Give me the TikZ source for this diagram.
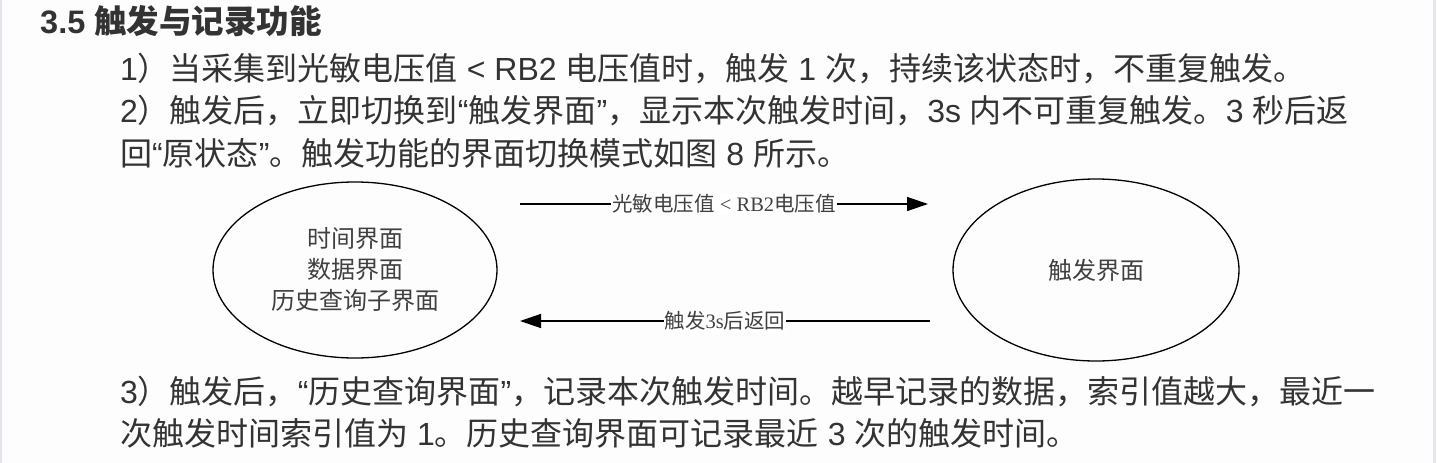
\documentclass[tikz,border=0pt]{standalone}
\usepackage{fontspec}
\setmainfont{Noto Sans CJK SC}
\newfontfamily\lat{Liberation Sans}
\newfontfamily\lser{Liberation Serif}
\usetikzlibrary{shapes.geometric,arrows.meta}
\definecolor{txt}{HTML}{333333}
\definecolor{dtxt}{HTML}{404040}
\definecolor{edge}{HTML}{E4E6EE}
\definecolor{bg}{HTML}{FDFDFD}
\tikzset{
  body/.style={anchor=base west, inner sep=0pt, text=txt, font=\fontsize{32}{32}\selectfont},
  ttl/.style={anchor=base west, inner sep=0pt, text=txt, font=\fontsize{32.5}{32}\selectfont\bfseries},
  state/.style={draw=black, line width=1.3pt, ellipse, inner sep=0pt, text=dtxt, align=center,
    font=\fontsize{24}{31}\selectfont},
  arr/.style={line width=1.4pt, -{Triangle[length=21pt,width=14pt]}},
  lbl/.style={fill=white, inner sep=1pt, text=dtxt, font=\fontsize{20.5}{20}\selectfont}
}
\begin{document}
\begin{tikzpicture}[x=1pt,y=-1pt]
\fill[bg] (0,0) rectangle (1438,463);
\useasboundingbox (0,0) rectangle (1438,463);
\draw[edge, line width=2pt] (0.5,0) -- (0.5,463);
\draw[edge, line width=3pt] (1434,0) -- (1434,463);
% text
\node[ttl] (title) at (40,34) {{\lat 3.5 }触发与记录功能};
\node[body] (l1) at (120,80) {{\lat 1}）当采集到光敏电压值{\lat{} < RB2 }电压值时，触发{\lat{} 1 }次，持续该状态时，不重复触发。};
\node[body] (l2) at (120,122) {{\lat 2}）触发后，立即切换到{\lat “}触发界面{\lat ”}，显示本次触发时间，{\lat 3s }内不可重复触发。{\lat 3 }秒后返};
\node[body] (l3) at (120,165) {回{\lat “}原状态{\lat ”}。触发功能的界面切换模式如图{\lat{} 8 }所示。};
\node[body] (l4) at (120,403) {{\lat 3}）触发后，{\lat “}历史查询界面{\lat ”}，记录本次触发时间。越早记录的数据，索引值越大，最近一};
\node[body] (l5) at (120,445) {次触发时间索引值为{\lat{} 1}。历史查询界面可记录最近{\lat{} 3 }次的触发时间。};
% diagram
\node[state, minimum width=284pt, minimum height=176pt] (A) at (355,270) {时间界面\\数据界面\\历史查询子界面};
\node[state, minimum width=286pt, minimum height=182pt] (B) at (1096,270) {触发界面};
\coordinate (t1) at (520,204);
\coordinate (t2) at (928,204);
\coordinate (b1) at (930,321);
\coordinate (b2) at (520,321);
\draw[arr] (t1) -- node[lbl] (lt) {光敏电压值{\lser{} < RB2}电压值} (t2);
\draw[arr] (b1) -- node[lbl] (lb) {触发{\lser 3s}后返回} (b2);
\end{tikzpicture}
\end{document}
